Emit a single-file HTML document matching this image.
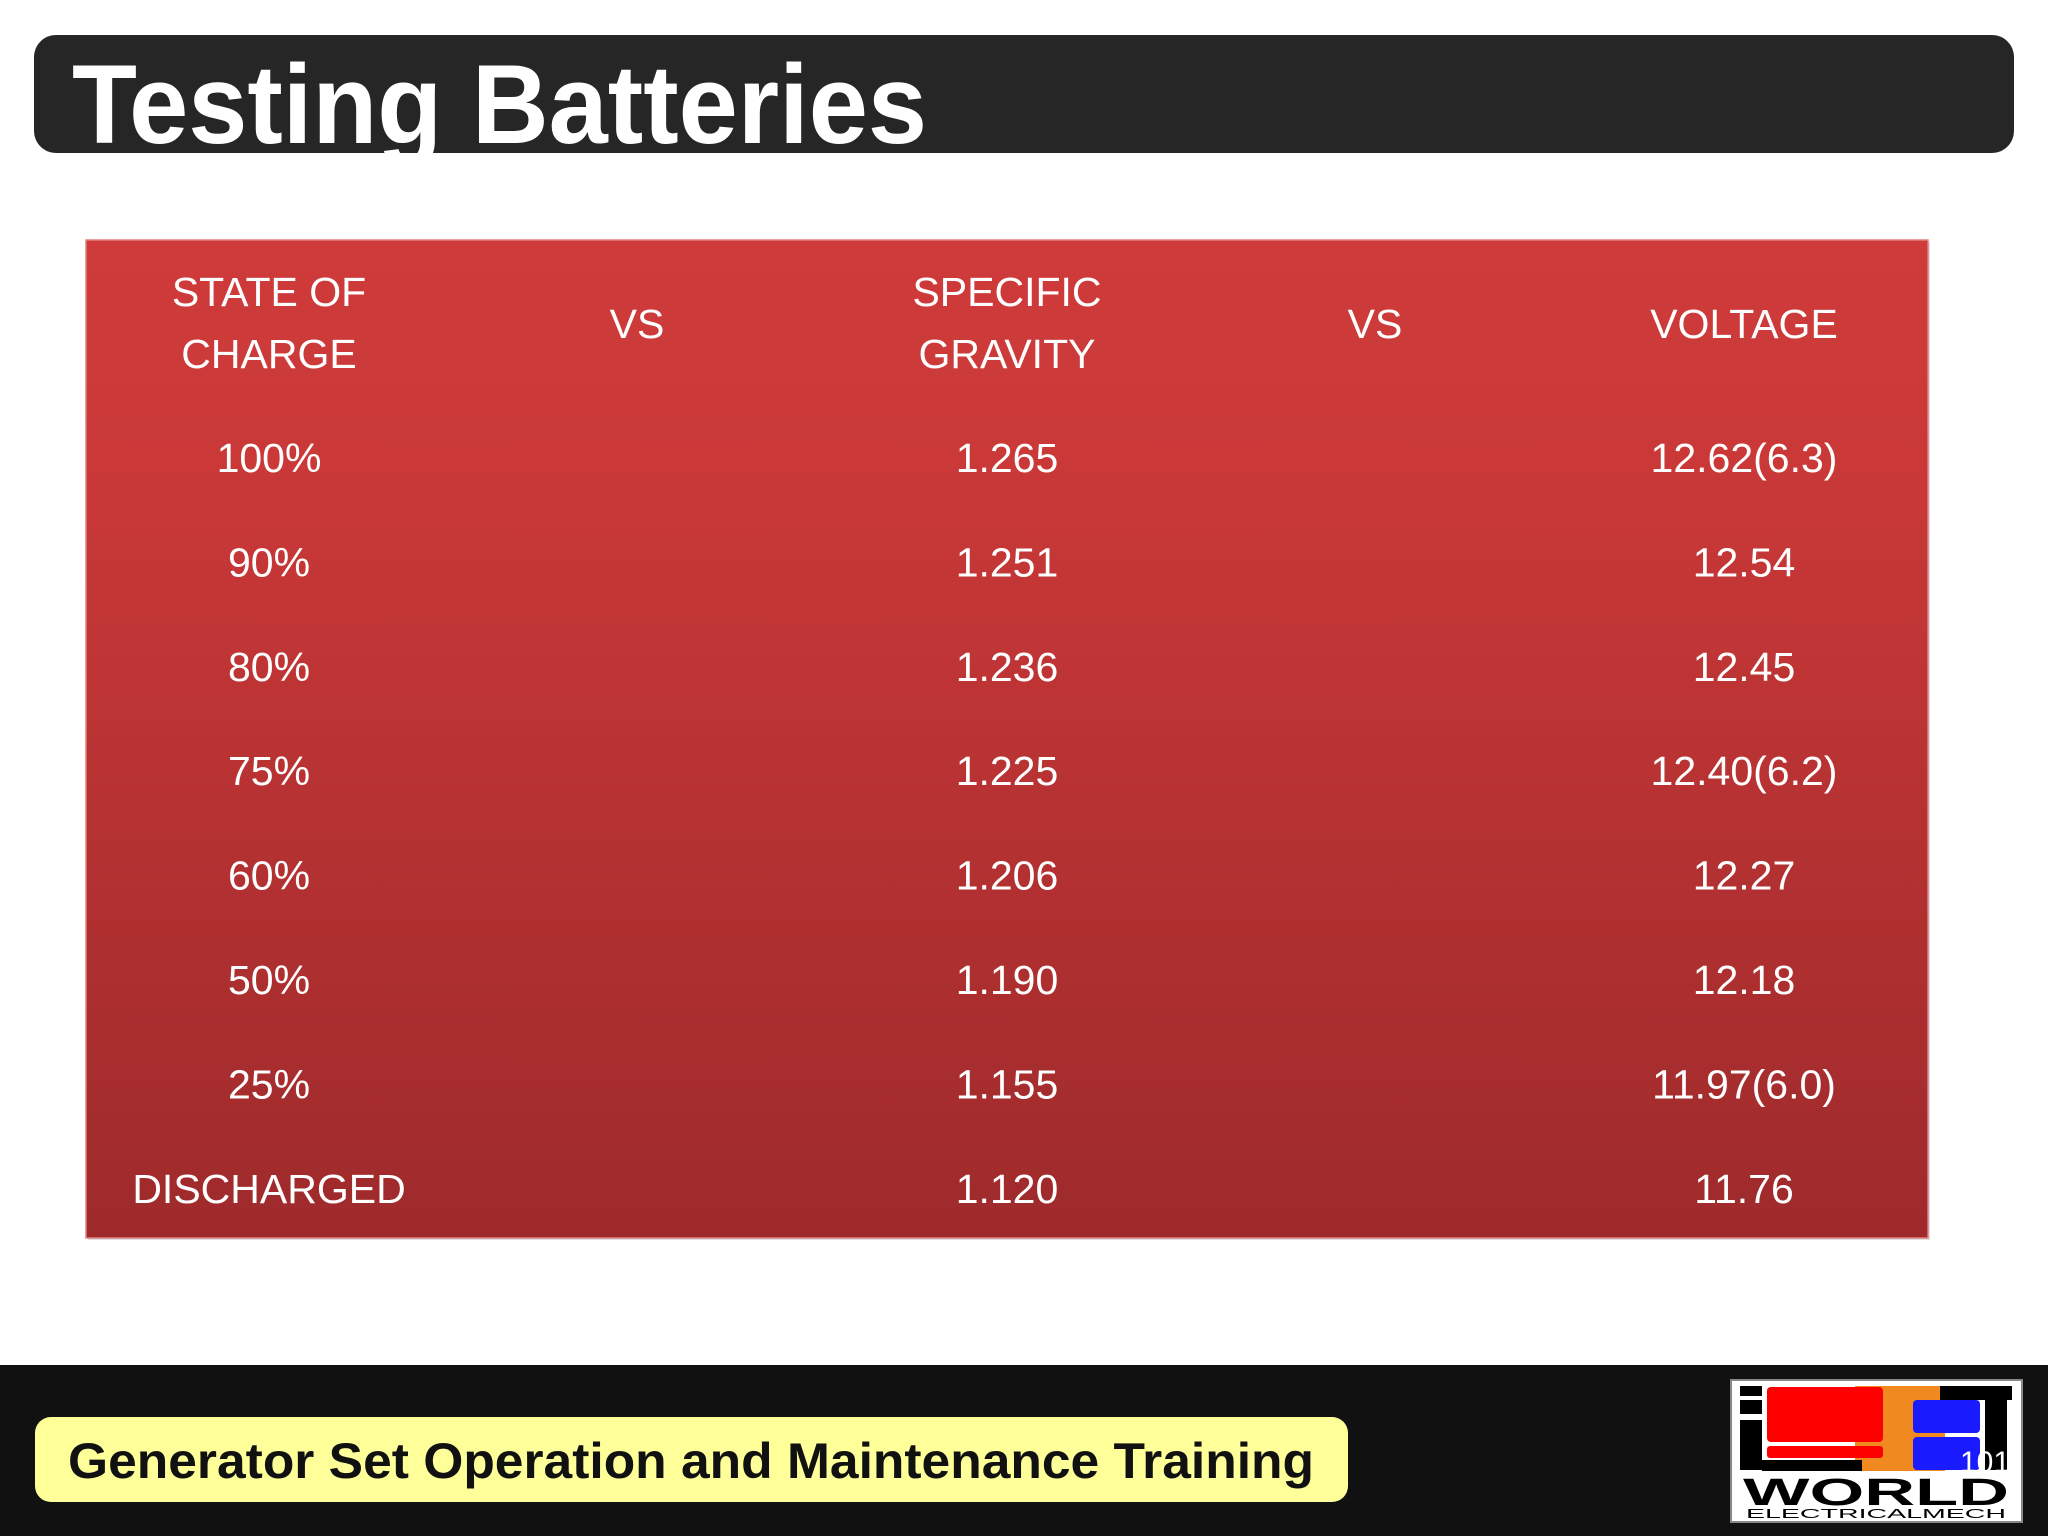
<!DOCTYPE html>
<html><head><meta charset="utf-8"><style>
html,body{margin:0;padding:0;background:#fff}
svg{display:block}
text{font-family:"Liberation Sans",sans-serif}
</style></head><body>
<svg width="2048" height="1536" viewBox="0 0 2048 1536">
<defs>
<linearGradient id="tg" x1="0" y1="0" x2="0" y2="1">
<stop offset="0" stop-color="#cf3b3b"/><stop offset="0.25" stop-color="#c93838"/><stop offset="1" stop-color="#9e2a2b"/>
</linearGradient>
</defs>
<rect x="0" y="0" width="2048" height="1536" fill="#ffffff"/>
<g>
<rect x="34" y="35" width="1980" height="118" rx="22" fill="#262626"/>
<text x="72" y="143" font-size="112" font-weight="bold" fill="#fff" textLength="855" lengthAdjust="spacingAndGlyphs">Testing Batteries</text>
</g>
<rect x="88" y="242" width="1842" height="998" fill="#000" opacity="0.12"/>
<rect x="86" y="240" width="1842" height="998" fill="url(#tg)" stroke="#e08080" stroke-width="1.5"/>
<g id="tbl" fill="#fff" font-size="41" text-anchor="middle"></g>
<rect x="0" y="1365" width="2048" height="171" fill="#111111"/>
<rect x="35" y="1417" width="1313" height="85" rx="16" fill="#ffff99"/>
<text x="68" y="1478" font-size="50" font-weight="bold" fill="#111" textLength="1246" lengthAdjust="spacingAndGlyphs">Generator Set Operation and Maintenance Training</text>
<g>
<rect x="1731" y="1380" width="291" height="142" fill="#fff" stroke="#888" stroke-width="2"/>
<rect x="1740" y="1386" width="22" height="10" fill="#000"/>
<rect x="1740" y="1400" width="22" height="14" fill="#000"/>
<rect x="1740" y="1420" width="22" height="50" fill="#000"/>
<rect x="1855" y="1386" width="90" height="85" fill="#f08a20"/>
<rect x="1767" y="1387" width="116" height="55" rx="4" fill="#ff0000"/>
<rect x="1767" y="1446" width="116" height="12" rx="3" fill="#ff0000"/>
<rect x="1762" y="1460" width="100" height="11" fill="#000"/>
<rect x="1940" y="1386" width="72" height="14" fill="#000"/>
<rect x="1985" y="1400" width="22" height="70" fill="#000"/>
<rect x="1913" y="1400" width="67" height="33" rx="4" fill="#1a1aff"/>
<rect x="1913" y="1437" width="67" height="33" rx="4" fill="#1a1aff"/>
<text x="1876" y="1505" font-size="38" font-weight="bold" fill="#000" text-anchor="middle" textLength="266" lengthAdjust="spacingAndGlyphs">WORLD</text>
<text x="1876" y="1518" font-size="13" fill="#000" text-anchor="middle" textLength="260" lengthAdjust="spacingAndGlyphs">ELECTRICALMECH</text>
<text x="1985" y="1472" font-size="30" fill="#fff" text-anchor="middle">101</text>
</g>
</svg>
<script>
const states=["100%","90%","80%","75%","60%","50%","25%","DISCHARGED"];
const gravity=["1.265","1.251","1.236","1.225","1.206","1.190","1.155","1.120"];
const voltage=["12.62(6.3)","12.54","12.45","12.40(6.2)","12.27","12.18","11.97(6.0)","11.76"];
const g=document.getElementById('tbl');
const NS="http://www.w3.org/2000/svg";
const colX=[269,637,1007,1375,1744];
function t(x,y,s,name){const e=document.createElementNS(NS,'text');e.setAttribute('x',x);e.setAttribute('y',y);e.textContent=s;


g.appendChild(e);}
t(colX[0],306,"STATE OF","header-state");
t(colX[0],368,"CHARGE","header-charge");
t(colX[1],338,"VS","header-vs-1");
t(colX[2],306,"SPECIFIC","header-specific");
t(colX[2],368,"GRAVITY","header-gravity");
t(colX[3],338,"VS","header-vs-2");
t(colX[4],338,"VOLTAGE","header-voltage");
function rowY(i){return 457+i*104.4+15;}
states.forEach((s,i)=>{
t(colX[0],rowY(i),s,"state-cell");
t(colX[2],rowY(i),gravity[i],"gravity-cell");
t(colX[4],rowY(i),voltage[i],"voltage-cell");
});
</script>
</body></html>
